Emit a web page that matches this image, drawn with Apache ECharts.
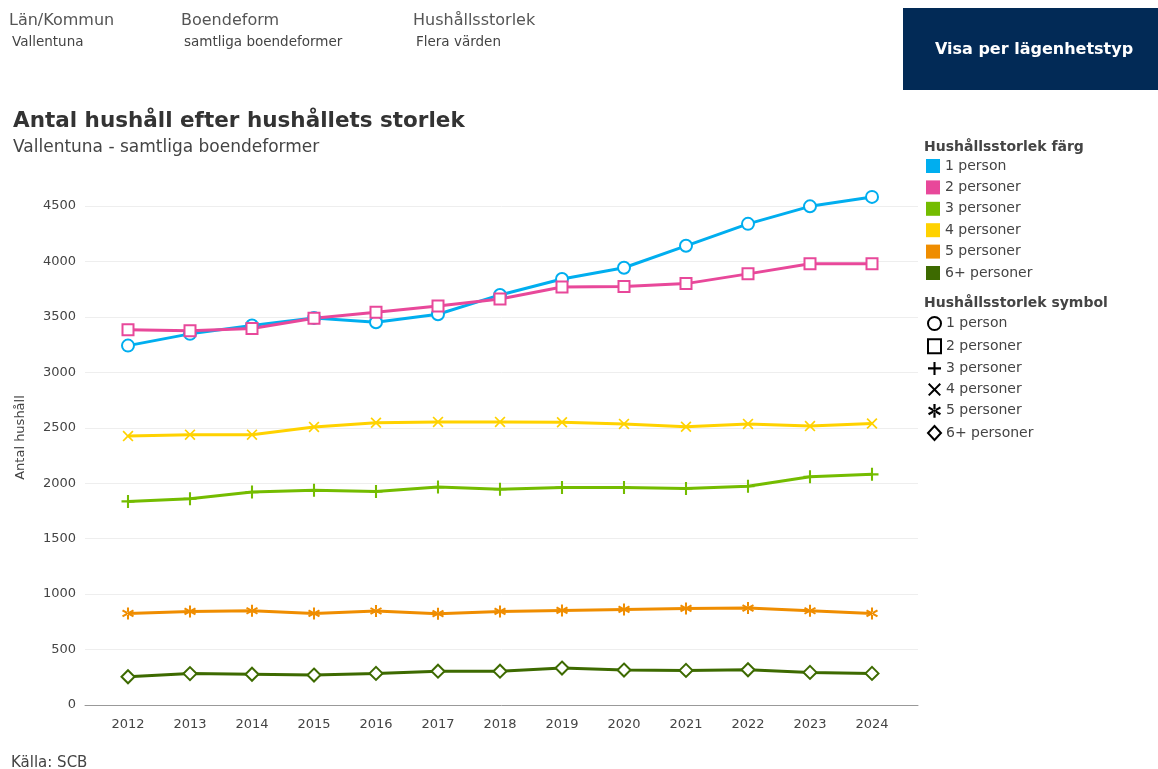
<!DOCTYPE html>
<html>
<head>
<meta charset="utf-8">
<script src="https://cdn.jsdelivr.net/npm/echarts@6/dist/echarts.min.js"></script>
<style>
  html, body { margin: 0; padding: 0; background: #fff; }
  #main { width: 1158px; height: 769px; }
</style>
</head>
<body>
<div id="main"></div>
<script>
var years = ['2012', '2013', '2014', '2015', '2016', '2017', '2018', '2019', '2020', '2021', '2022', '2023', '2024'];
var seriesNames = ['1 person', '2 personer', '3 personer', '4 personer', '5 personer', '6+ personer'];

var onePerson = [3241, 3347, 3422, 3491, 3452, 3524, 3698, 3842, 3943, 4141, 4339, 4497, 4582];
var twoPersons = [3385, 3374, 3395, 3488, 3542, 3599, 3662, 3770, 3775, 3800, 3888, 3980, 3980];
var threePersons = [1836, 1860, 1920, 1936, 1926, 1965, 1946, 1962, 1962, 1953, 1972, 2058, 2080];
var fourPersons = [2425, 2438, 2438, 2508, 2545, 2553, 2553, 2550, 2535, 2510, 2535, 2515, 2538];
var fivePersons = [826, 844, 850, 826, 848, 824, 844, 853, 862, 871, 874, 850, 826];
var sixPlus = [255, 283, 277, 270, 285, 305, 305, 333, 315, 312, 318, 294, 285];

var yTicks = [0, 500, 1000, 1500, 2000, 2500, 3000, 3500, 4000, 4500];

var colors = ['#00aeef', '#e8489a', '#74bc00', '#ffd200', '#ef8d00', '#3d6a00'];

// symbol shapes (filled outlines so they look like strokes)
var plusPath = 'path://M4.2,0H5.8V4.2H10V5.8H5.8V10H4.2V5.8H0V4.2H4.2Z';
var crossPath = 'path://M1.1,0L5,3.9L8.9,0L10,1.1L6.1,5L10,8.9L8.9,10L5,6.1L1.1,10L0,8.9L3.9,5L0,1.1Z';
var starPath = 'path://M4.2,0H5.8V10H4.2Z M0.27,3.19L8.93,8.19L9.73,6.81L1.07,1.81Z M1.07,8.19L9.73,3.19L8.93,1.81L0.27,6.81Z';
var symbols = ['emptyCircle', 'emptyRect', plusPath, crossPath, starPath, 'emptyDiamond'];
var symbolSizes = [12, 11, 13, 11, 12, 13];
var legendIcons = ['circle', 'rect', plusPath, crossPath, starPath, 'diamond'];
var hollow = [true, true, false, false, false, true];

var values = [onePerson, twoPersons, threePersons, fourPersons, fivePersons, sixPlus];

var series = seriesNames.map(function (name, i) {
  return {
    name: name,
    type: 'line',
    data: values[i],
    clip: false,
    symbol: symbols[i],
    symbolSize: symbolSizes[i],
    lineStyle: { width: 3, color: colors[i] },
    itemStyle: hollow[i]
      ? { color: colors[i], borderColor: colors[i], borderWidth: 2 }
      : { color: colors[i], borderWidth: 0 }
  };
});

var chartDom = document.getElementById('main');
var myChart = echarts.init(chartDom);
var font = 'DejaVu Sans';
var option;

function txt(text, left, top, size, weight, color) {
  return {
    text: text, left: left, top: top, padding: 0,
    textStyle: { fontSize: size, fontWeight: weight, color: color, fontFamily: font }
  };
}

option = {
  animation: false,
  textStyle: { fontFamily: font },
  title: [
    txt('Län/Kommun', 9, 13, 16, 'normal', '#555'),
    txt('Vallentuna', 12, 35, 13.5, 'normal', '#444'),
    txt('Boendeform', 181, 13, 16, 'normal', '#555'),
    txt('samtliga boendeformer', 184, 35, 13.5, 'normal', '#444'),
    txt('Hushållsstorlek', 413, 13, 16, 'normal', '#555'),
    txt('Flera värden', 416, 35, 13.5, 'normal', '#444'),
    txt('Antal hushåll efter hushållets storlek', 13, 110, 21.5, 'bold', '#333'),
    txt('Vallentuna - samtliga boendeformer', 13, 139, 17, 'normal', '#444'),
    txt('Hushållsstorlek färg', 924, 140, 14, 'bold', '#444'),
    txt('Hushållsstorlek symbol', 924, 296, 14, 'bold', '#444'),
    txt('Källa: SCB', 11, 756, 15, 'normal', '#444')
  ],
  graphic: [
    {
      type: 'rect',
      shape: { x: 903, y: 8, width: 255, height: 82 },
      style: { fill: '#022a56' }
    },
    {
      type: 'text',
      x: 1034,
      y: 50,
      style: {
        text: 'Visa per lägenhetstyp',
        fill: '#fff',
        font: 'bold 16px "DejaVu Sans"',
        align: 'center',
        verticalAlign: 'middle'
      }
    }
  ],
  legend: [
    {
      orient: 'vertical',
      left: 926,
      top: 159,
      padding: 0,
      itemGap: 7.4,
      itemWidth: 14,
      itemHeight: 14,
      selectedMode: false,
      textStyle: { fontSize: 14, lineHeight: 14, color: '#444', fontFamily: font },
      data: seriesNames.map(function (n, i) {
        return { name: n, icon: 'rect', itemStyle: { color: colors[i], borderWidth: 0 } };
      })
    },
    {
      orient: 'vertical',
      left: 927,
      top: 316,
      padding: 0,
      itemGap: 7.2,
      itemWidth: 13,
      itemHeight: 14,
      selectedMode: false,
      textStyle: { fontSize: 14, lineHeight: 14, color: '#444', fontFamily: font },
      data: seriesNames.map(function (n, i) {
        return {
          name: n,
          icon: legendIcons[i],
          itemStyle: hollow[i]
            ? { color: '#fff', borderColor: '#000', borderWidth: 2 }
            : { color: '#000', borderWidth: 0 }
        };
      })
    }
  ],
  grid: [
    // data grid (category bands centred on the years)
    { left: 97, right: 255, top: 206, bottom: 64 },
    // background grid: gridlines, baseline, y labels
    { left: 85, right: 240, top: 206, bottom: 64 }
  ],
  xAxis: [
    {
      type: 'category',
      gridIndex: 0,
      data: years,
      boundaryGap: true,
      axisLine: { show: false },
      axisTick: { show: false },
      axisLabel: { fontSize: 13, color: '#444', margin: 13, fontFamily: font }
    },
    {
      type: 'category',
      gridIndex: 1,
      data: years,
      axisLine: { show: true, lineStyle: { color: '#999', width: 1 } },
      axisTick: { show: false },
      axisLabel: { show: false }
    }
  ],
  yAxis: [
    {
      type: 'value',
      gridIndex: 0,
      min: yTicks[0],
      max: yTicks[yTicks.length - 1],
      interval: 500,
      axisLine: { show: false },
      axisTick: { show: false },
      axisLabel: { show: false },
      splitLine: { show: false }
    },
    {
      type: 'value',
      gridIndex: 1,
      min: yTicks[0],
      max: yTicks[yTicks.length - 1],
      interval: 500,
      name: 'Antal hushåll',
      nameLocation: 'middle',
      nameGap: 58,
      nameTextStyle: { fontSize: 13, color: '#444', fontFamily: font, padding: [0, 0, 0, 36] },
      axisLine: { show: false },
      axisTick: { show: false },
      axisLabel: {
        fontSize: 13,
        color: '#444',
        margin: 9,
        fontFamily: font,
        formatter: function (v) { return String(v); }
      },
      splitLine: { lineStyle: { color: '#eeeeee', width: 1 } }
    }
  ],
  series: series
};

myChart.setOption(option);
</script>
</body>
</html>
